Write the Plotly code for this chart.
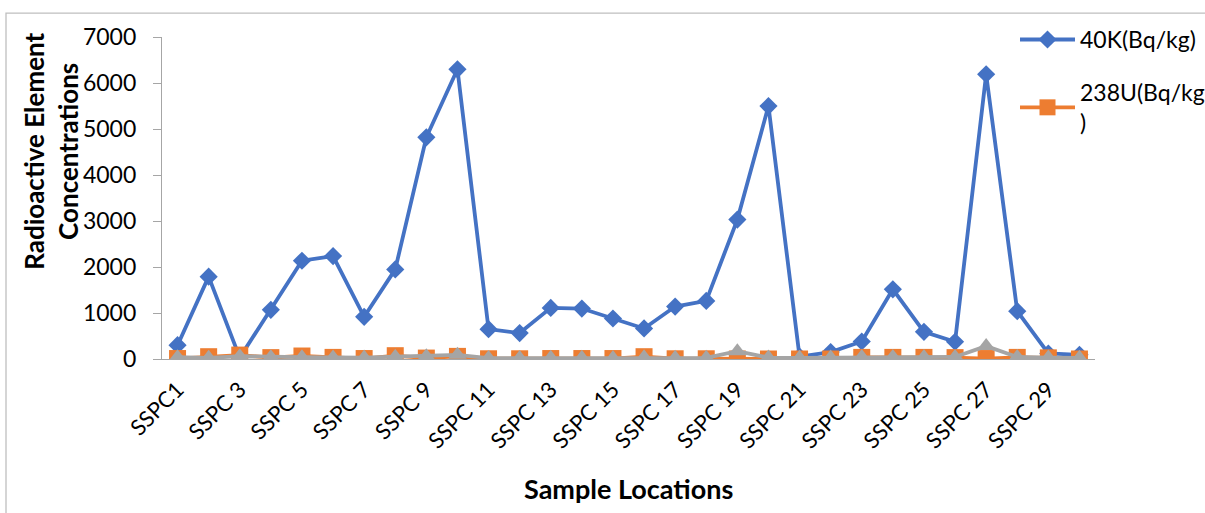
import plotly.graph_objects as go

categories = ["SSPC1", "SSPC 2", "SSPC 3", "SSPC 4", "SSPC 5", "SSPC 6", "SSPC 7", "SSPC 8",
              "SSPC 9", "SSPC 10", "SSPC 11", "SSPC 12", "SSPC 13", "SSPC 14", "SSPC 15",
              "SSPC 16", "SSPC 17", "SSPC 18", "SSPC 19", "SSPC 20", "SSPC 21", "SSPC 22",
              "SSPC 23", "SSPC 24", "SSPC 25", "SSPC 26", "SSPC 27", "SSPC 28", "SSPC 29",
              "SSPC 30"]
tick_labels = ["SSPC1", "SSPC 3", "SSPC 5", "SSPC 7", "SSPC 9", "SSPC 11", "SSPC 13",
               "SSPC 15", "SSPC 17", "SSPC 19", "SSPC 21", "SSPC 23", "SSPC 25", "SSPC 27",
               "SSPC 29"]

k40 = [300, 1790, 30, 1068, 2136, 2237, 917, 1948, 4820, 6298, 649, 563, 1111, 1097, 880,
       664, 1140, 1263, 3030, 5498, 50, 150, 380, 1515, 591, 375, 6190, 1040, 120, 90]
u238 = [10, 50, 85, 30, 65, 35, 10, 72, 20, 57, 5, 5, 10, 10, 10,
        50, 5, 5, 0, 0, 0, 0, 35, 35, 35, 30, 10, 35, 25, 0]
th232 = [40, 25, 60, 40, 40, 35, 30, 50, 60, 90, 20, 20, 25, 25, 20,
         40, 25, 25, 170, 30, 25, 30, 45, 45, 45, 45, 280, 45, 30, 25]

W, H = 1205, 513
L, R, T, B = 162, 110, 37, 153.5
pw = W - L - R
ph = H - T - B

def px(x):
    return (x - L) / pw

def py(y):
    return (H - B - y) / ph

FONT = "Lato"

fig = go.Figure()
fig.add_trace(go.Scatter(
    x=categories, y=k40, name="40K(Bq/kg)", mode="lines+markers",
    line=dict(color="#4472C4", width=3.8),
    marker=dict(symbol="diamond", size=14, color="#4472C4"),
    legendgroup="a"))
fig.add_trace(go.Scatter(
    x=categories, y=u238, name="238U(Bq/kg<br>)", mode="lines+markers",
    line=dict(color="#ED7D31", width=3.8),
    marker=dict(symbol="square", size=17, color="#ED7D31"),
    legendgroup="b"))
fig.add_trace(go.Scatter(
    x=categories, y=th232, name="232Th(Bq/kg)", mode="lines+markers",
    line=dict(color="#A5A5A5", width=3.8),
    marker=dict(symbol="triangle-up", size=16, color="#A5A5A5"),
    showlegend=False, legendgroup="c"))

fig.update_layout(
    width=W, height=H,
    margin=dict(l=L, r=R, t=T, b=B, autoexpand=False),
    paper_bgcolor="white", plot_bgcolor="white",
    font=dict(family=FONT, color="#000000", size=22),
    xaxis=dict(
        type="category", range=[-0.5, 29.5],
        tickmode="array", tickvals=tick_labels, ticktext=tick_labels,
        tickangle=-45, tickfont=dict(size=22, family=FONT, color="#000000"),
        ticklabelstandoff=8,
        showline=True, linecolor="#A6A6A6", linewidth=1.3,
        showgrid=False, zeroline=False, ticks="",
    ),
    yaxis=dict(
        range=[0, 7000], tickvals=[0, 1000, 2000, 3000, 4000, 5000, 6000, 7000],
        tickfont=dict(size=23, family=FONT, color="#000000"),
        ticklabelstandoff=12,
        showline=True, linecolor="#A6A6A6", linewidth=1.3,
        ticks="outside", ticklen=8, tickcolor="#A6A6A6", tickwidth=1.3,
        showgrid=False, zeroline=False,
    ),
    legend=dict(
        x=px(1015), y=py(18), xanchor="left", yanchor="top",
        font=dict(size=23, family=FONT, color="#000000"),
        itemwidth=55, tracegroupgap=20, traceorder="grouped",
        bgcolor="rgba(0,0,0,0)",
    ),
    showlegend=True,
    annotations=[
        dict(text="<b>Sample Locations</b>", xref="paper", yref="paper",
             x=px(628), y=py(489), xanchor="center", yanchor="middle",
             showarrow=False, font=dict(size=27, family=FONT, color="#000000")),
        dict(text="<b>Radioactive Element<br>Concentrations</b>", xref="paper", yref="paper",
             x=px(51), y=py(152), xanchor="center", yanchor="middle", textangle=-90,
             showarrow=False, font=dict(size=26, family=FONT, color="#000000")),
    ],
    shapes=[
        dict(type="rect", xref="paper", yref="paper",
             x0=px(6), y0=py(13), x1=px(1300), y1=py(600),
             line=dict(color="#BFBFBF", width=1.3), fillcolor="rgba(0,0,0,0)",
             layer="below"),
    ],
)

fig.write_html("out.html", config={"displayModeBar": False},
               post_script="document.body.style.margin='0';document.body.style.padding='0';document.body.style.overflow='hidden';")
